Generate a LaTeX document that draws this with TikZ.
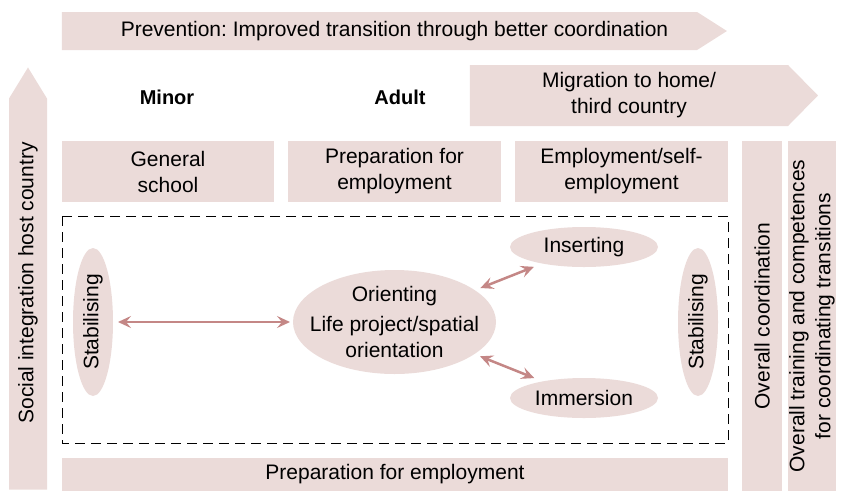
\documentclass[tikz,border=0pt]{standalone}
\usepackage{fontspec}
\setmainfont{Liberation Sans}
\frenchspacing
\usetikzlibrary{shapes.symbols,shapes.geometric,arrows.meta}
\definecolor{rosefill}{RGB}{235,219,217}
\definecolor{rosearrow}{RGB}{196,135,134}

\begin{document}
\begin{tikzpicture}[x=1pt,y=-1pt,
	every node/.style = {font=\fontsize{21}{26}\selectfont, inner sep=0pt, outer sep=0pt},
	head/.style = {font=\fontsize{20}{26}\selectfont\bfseries},
	box/.style = {fill=rosefill, align=center},
	banner/.style = {fill=rosefill, signal, signal to=east},
	bubble/.style = {fill=rosefill, ellipse, align=center},
	link/.style = {rosearrow, line width=2.5pt, {Stealth[length=13pt,width=12pt,inset=5pt]}-{Stealth[length=13pt,width=12pt,inset=5pt]}}]
	\useasboundingbox (0,0) rectangle (843,491);
	\node[banner, signal pointer angle=65, minimum width=665, minimum height=38, label={[xshift=15pt]center:Prevention: Improved transition through better coordination}] (prevent) at (379.5,31) {};
	\node[banner, signal to=north, signal pointer angle=63, minimum width=38, minimum height=391] (social) at (28,294) {};
	\node[rotate=90] (socialtext) at (28,283) {Social integration host country};
	\node[head] (minor) at (167,97) {Minor};
	\node[head] (adult) at (400,97) {Adult};
	\node[banner, signal pointer angle=91, minimum width=348, minimum height=61, align=center] (migrate) at (629,95.5) {Migration to home/\\third country};
	\node[box, minimum width=212, minimum height=61] (school) at (168,171.5) {General\\school};
	\node[box, minimum width=213, minimum height=61] (prepare) at (394.5,171.5) {Preparation for\\employment};
	\node[box, minimum width=213, minimum height=61] (employ) at (621.5,171.5) {Employment/self-\\employment};
	\node[box, rotate=90, minimum width=350, minimum height=40] (coord) at (762,316) {Overall coordination};
	\node[box, rotate=90, minimum width=350, minimum height=48] (training) at (812,316) {Overall training and competences\\for coordinating transitions};
	\node[box, minimum width=666, minimum height=33] (prepbar) at (395,474.5) {Preparation for employment};
	\draw[dash pattern=on 10pt off 6pt, line width=1pt] (62,216) rectangle (728,443);
	\node[bubble, rotate=90, minimum width=148, minimum height=40] (stableft) at (93,322) {Stabilising};
	\node[bubble, rotate=90, minimum width=148, minimum height=40] (stabright) at (698,322) {Stabilising};
	\node[bubble, minimum width=203, minimum height=104, label={[align=center]center:Orienting\\[4pt]Life project/spatial\\orientation}] (orient) at (394.5,322) {};
	\node[bubble, minimum width=148, minimum height=40] (insert) at (584,247) {Inserting};
	\node[bubble, minimum width=148, minimum height=40] (immerse) at (584,398) {Immersion};
	\draw[link, shorten <=5pt, shorten >=3pt] (stableft) -- (orient);
	\draw[link, shorten <=6pt, shorten >=9pt] (orient) -- (insert);
	\draw[link, shorten <=6pt, shorten >=9pt] (orient) -- (immerse);
\end{tikzpicture}
\end{document}
